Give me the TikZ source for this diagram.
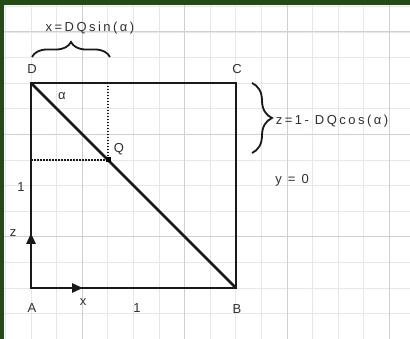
\documentclass[tikz,border=0pt]{standalone}
\usepackage{fontspec}
\setmainfont{Liberation Sans}
\newfontfamily\lblfont[LetterSpace=19]{Liberation Sans}
\usetikzlibrary{arrows.meta,decorations.pathreplacing,calc}
\definecolor{frame}{HTML}{244A18}
\definecolor{gridminor}{HTML}{E6E6EC}
\definecolor{gridmajor}{HTML}{CFCFD8}
\definecolor{ink}{HTML}{303030}
\begin{document}
\begin{tikzpicture}[x=1pt,y=-1pt,
  lab/.style={font=\lblfont\fontsize{13}{15}\selectfont, text=ink, inner sep=0pt},
  edgeline/.style={line width=2.5pt, black!90},
  guide/.style={line width=1.5pt, black!90, dash pattern=on 1.5pt off 1.5pt},
  bracepath/.style={line width=1.8pt, black!90, decorate, decoration={brace, amplitude=#1}},
  tipped/.style={edgeline, -{Triangle[length=11pt,width=9pt]}}]
\useasboundingbox (0,0) rectangle (410,339);
\fill[white] (0,0) rectangle (410,339);
% grid
\foreach \i in {-1,...,14} \draw[gridminor, line width=0.9pt] ({31+25.6*\i},5) -- ({31+25.6*\i},339);
\foreach \j in {-2,...,11} \draw[gridminor, line width=0.9pt] (4,{288-25.6*\j}) -- (410,{288-25.6*\j});
\foreach \i in {2,6,10,14} \draw[gridmajor, line width=1pt] ({31+25.6*\i},5) -- ({31+25.6*\i},339);
\foreach \j in {-2,2,6,10} \draw[gridmajor, line width=1pt] (4,{288-25.6*\j}) -- (410,{288-25.6*\j});
% frame
\fill[frame] (0,0) rectangle (410,5);
\fill[frame] (0,0) rectangle (4,339);
% points
\coordinate (A) at (31,288);
\coordinate (B) at (236,288);
\coordinate (C) at (236,83);
\coordinate (D) at (31,83);
\coordinate (Q) at (108,160);
\coordinate (Qx) at (108,83);
\coordinate (Qz) at (31,160);
\coordinate (zt) at (31,233);
\coordinate (xt) at (83,288);
\coordinate (b1s) at (32,57);
\coordinate (b1e) at (110,57);
\coordinate (b2s) at (252,83);
\coordinate (b2e) at (252,153);
% dotted guides
\draw[guide] (Qx) -- (Q);
\draw[guide] (Qz) -- (Q);
% square and diagonal
\draw[edgeline, line join=miter] (A) -- (B) -- (C) -- (D) -- cycle;
\draw[edgeline] (D) -- (B);
\draw[tipped] (A) -- (zt);
\draw[tipped] (A) -- (xt);
\fill[black] ($(Q)+(-2.5,-2.5)$) rectangle ($(Q)+(2.5,2.5)$);
% braces
\draw[bracepath=15pt] (b1s) -- (b1e);
\draw[bracepath=20pt] (b2s) -- (b2e);
% labels
\node[lab] (lD) at (32,69) {D};
\node[lab] (lC) at (237,69) {C};
\node[lab] (lA) at (32,308) {A};
\node[lab] (lB) at (237,309) {B};
\node[lab] (lQ) at (119,149) {Q};
\node[lab] (lal) at (62,96) {α};
\node[lab] (l1z) at (21,187) {1};
\node[lab] (lz) at (13,233) {z};
\node[lab] (lx) at (83,302) {x};
\node[lab] (l1x) at (137,308) {1};
\node[lab] (ly) at (292,180) {y = 0};
\node[lab] (lsin) at (90,28) {x=DQsin(α)};
\node[lab] (lcos) at (332,121) {z=1- DQcos(α)};
\end{tikzpicture}
\end{document}
